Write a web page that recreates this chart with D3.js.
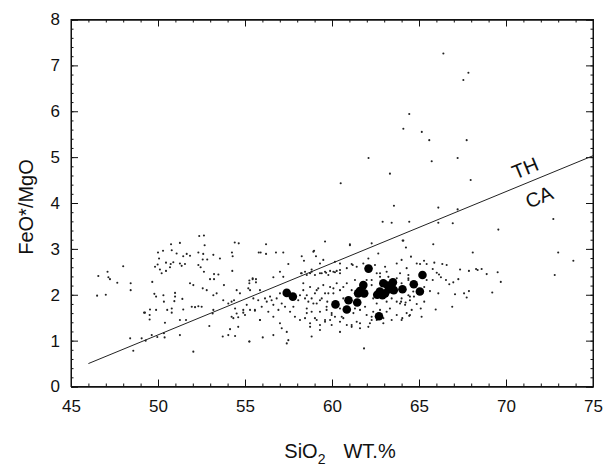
<!DOCTYPE html>
<html>
<head>
<meta charset="utf-8">
<script src="https://cdn.jsdelivr.net/npm/d3@7"></script>
<style>
  body { margin: 0; background: #fff; }
  svg text { font-family: "Liberation Sans", Arial, sans-serif; fill: #111; }
  .axis path, .axis line { stroke: #111; }
</style>
</head>
<body>
<svg id="chart" width="613" height="468"></svg>
<script>
// values (SiO2 wt.%, FeO*/MgO)
var xMajorTicks = [45, 50, 55, 60, 65, 70, 75];
var yMajorTicks = [0, 1, 2, 3, 4, 5, 6, 7, 8];

// Miyashiro TH / CA divide
var dividerLine = [[46, 0.5], [75, 5.03]];

var bigPoints = [
 [57.4,2.04],[57.75,1.96],[60.2,1.79],[60.85,1.68],[60.95,1.88],[61.45,1.83],[61.5,2.03],
 [61.8,2.21],[61.85,2.03],[62.1,2.57],[62.7,1.53],[62.75,2.07],[62.95,2.25],[62.9,1.99],
 [63.05,2.03],[63.3,2.12],[63.5,2.27],[63.55,2.1],[63.2,2.2],[64.05,2.12],[64.7,2.23],
 [65.05,2.07],[65.2,2.43],[62.6,2.0],[61.6,2.08]
];

var smallPoints = [
 // basaltic end
 [46.57,2.41],[47.1,2.5],[47.15,2.38],[46.5,1.98],[47.0,2.0],[48.0,2.62],[47.24,2.34],
 [47.66,2.26],[48.43,2.25],[48.43,2.10],[49.2,1.61],[49.52,1.56],[49.52,1.46],[48.4,1.05],
 [48.58,0.78],[49.06,1.05],[49.29,1.0],[49.64,1.12],[49.96,1.08],[50.34,1.16],[50.38,1.07],
 [51.26,1.12],[52.03,0.76],
 // 50-56 cloud
 [52.37,3.28],[52.64,3.29],[51.26,3.13],[50.75,3.10],[52.68,3.08],[54.41,3.14],[54.64,3.12],
 [50.0,2.92],[50.29,2.96],[50.79,2.97],[50.06,2.79],[51.07,2.90],[51.65,2.89],[51.45,2.84],
 [51.84,2.85],[52.32,2.92],[52.6,2.89],[52.57,2.77],[52.83,2.77],[53.18,2.87],[53.56,2.79],
 [54.25,2.92],[54.29,2.84],[55.79,2.92],[49.98,2.66],[49.83,2.61],[50.46,2.70],[50.73,2.67],
 [50.88,2.71],[51.26,2.68],[51.36,2.63],[51.55,2.67],[50.11,2.55],[50.46,2.52],[50.69,2.60],
 [50.21,2.47],[52.32,2.65],[52.45,2.60],[52.64,2.50],[53.22,2.45],[53.47,2.44],[52.99,2.34],
 [53.22,2.34],[54.27,2.52],[51.84,2.25],[52.03,2.21],[52.57,2.14],[52.8,2.10],[53.18,1.99],
 [53.37,2.03],[53.79,2.21],[54.52,2.10],[54.71,2.03],[55.19,2.14],[55.44,2.34],[55.63,2.27],
 [55.25,2.25],[49.67,2.28],[49.79,2.02],[49.89,1.96],[50.31,1.99],[50.34,1.85],[50.98,2.04],
 [50.98,1.96],[50.94,1.86],[51.4,1.91],[50.53,1.67],[50.79,1.70],[50.79,1.61],[51.45,1.68],
 [51.94,1.74],[52.13,1.73],[52.32,1.75],[52.51,1.74],[49.89,1.67],[49.54,1.68],[49.25,1.61],
 [50.4,1.39],[51.26,1.45],[51.61,1.45],[52.95,1.32],[53.18,1.67],[53.14,1.59],[53.75,1.88],
 [54.04,1.81],[54.23,1.85],[54.37,1.88],[54.43,1.70],[54.52,1.59],[54.23,1.52],[54.33,1.49],
 [54.61,1.51],[54.61,1.30],[54.14,1.25],[54.43,1.10],[53.72,1.09],[54.04,1.12],[54.9,1.61],
 [55.29,1.67],[55.57,1.65],[55.86,1.45],[55.25,0.98],[55.86,2.10],
 // 55-65 cloud, upper part
 [56.21,3.10],[59.6,3.16],[61.03,3.10],[62.28,3.12],[64.1,3.18],[55.9,2.92],[56.21,2.89],
 [56.78,2.92],[57.2,2.92],[58.26,2.84],[58.97,2.96],[58.39,2.74],[57.49,2.67],[57.01,2.50],
 [57.2,2.39],[56.63,2.38],[55.44,2.36],[55.25,2.31],[55.63,2.34],[58.22,2.47],[58.45,2.50],
 [58.74,2.47],[58.83,2.55],[59.02,2.43],[59.41,2.47],[59.66,2.48],[59.79,2.43],[60.08,2.50],
 [60.27,2.52],[60.46,2.47],[60.85,2.58],[61.13,2.67],[61.42,2.61],[60.46,2.68],[60.17,2.72],
 [59.31,2.68],[59.5,2.76],[59.08,2.84],
 // middle band
 [54.9,1.67],[55.1,1.78],[55.29,2.10],[55.48,1.92],[55.76,1.88],[55.96,1.74],[56.15,1.92],
 [56.25,1.85],[56.44,1.96],[56.53,1.88],[56.63,1.78],[56.82,1.92],[57.01,2.03],[57.11,1.81],
 [56.92,1.67],[57.3,1.74],[57.59,1.63],[57.78,1.74],[58.06,1.88],[58.16,1.99],[58.35,2.10],
 [58.55,1.99],[58.64,1.85],[58.83,1.92],[59.02,2.03],[59.21,2.14],[59.41,1.92],[59.6,2.03],
 [59.73,1.85],[59.89,2.17],[60.08,2.03],[60.27,2.25],[60.46,2.10],[60.65,1.92],[60.85,2.25],
 [61.13,2.10],[61.32,2.32],[61.99,2.32],[62.28,2.21],[62.37,1.92],[62.57,1.81],[63.14,1.85],
 [63.43,1.92],[63.72,1.85],[64.0,1.92],[64.2,1.78],[64.48,1.88],[64.67,2.07],[64.39,2.32],
 [63.72,2.36],[63.24,2.39],[62.76,2.39],[62.57,2.47],[63.14,2.50],[63.91,2.47],[64.29,2.58],
 [64.87,2.68],[61.8,2.68],[62.09,2.79],
 [58.26,2.47],[58.55,2.43],[58.83,2.50],[59.31,2.47],[59.6,2.50],[59.89,2.52],[60.17,2.49],
 [60.46,2.54],[61.19,2.65],[58.35,2.25],[58.74,2.17],[59.12,2.10],[59.5,2.21],[59.79,2.03],
 [60.08,2.14],[60.65,2.17],[58.45,1.92],[58.93,1.81],[59.31,1.88],[59.69,1.74],[62.28,2.32],
 [62.76,2.47],[62.47,2.65],[63.05,2.61],[63.72,2.68],[62.66,2.90],[61.03,3.08],[58.93,2.94],
 // lower band
 [55.0,1.56],[55.57,1.67],[55.86,1.45],[56.34,1.63],[56.63,1.52],[57.01,1.38],[57.11,1.27],
 [57.4,1.19],[57.49,1.01],[57.4,0.94],[56.63,1.12],[56.02,1.07],[55.25,0.98],[57.87,1.52],
 [58.16,1.45],[58.45,1.49],[58.74,1.38],[58.83,1.09],[59.12,1.45],[59.31,1.34],[59.6,1.41],
 [59.89,1.45],[59.98,1.34],[60.17,1.52],[60.46,1.41],[60.65,1.49],[60.85,1.34],[61.13,1.34],
 [61.42,1.41],[61.61,1.27],[61.84,0.83],[62.09,1.30],[62.28,1.52],[62.37,1.63],[62.76,1.67],
 [63.14,1.63],[63.43,1.45],[63.72,1.56],[64.0,1.45],[64.29,1.60],[64.48,1.56],[58.83,1.63],
 [58.55,1.70],[59.31,1.63],[59.69,1.67],[59.98,1.60],[60.46,1.70],[59.12,1.81],[60.08,1.78],
 [61.32,1.70],[61.61,1.67],[61.9,1.74],[62.18,1.38],[62.57,1.45],[62.95,1.38],
 [58.55,1.60],[59.02,1.49],[59.6,1.45],[59.98,1.56],[60.56,1.52],[61.23,1.60],[61.61,1.38],
 [61.99,1.56],[62.28,1.45],[62.95,1.49],[63.33,1.70],[63.91,1.81],[64.48,1.96],[60.46,1.19],
 [61.13,1.30],[59.31,1.23],[58.74,1.30],
 // 64-73
 [64.06,3.18],[65.82,3.10],[68.09,2.92],[73.0,2.92],[64.25,3.03],[64.54,2.83],[64.0,2.76],
 [65.29,2.74],[65.06,2.67],[65.44,2.67],[65.88,2.70],[66.34,2.67],[66.59,2.65],[65.79,2.56],
 [66.02,2.48],[66.15,2.44],[66.26,2.38],[67.36,2.55],[67.87,2.52],[68.28,2.56],[68.6,2.56],
 [68.89,2.45],[69.52,2.49],[69.7,2.28],[68.37,2.54],[72.8,2.43],[64.39,2.43],[64.39,2.36],
 [64.58,2.26],[65.44,2.32],[65.79,2.32],[66.55,2.32],[66.97,2.27],[66.74,2.23],[67.26,2.34],
 [65.3,2.17],[65.63,2.08],[66.11,2.03],[67.87,2.08],[67.59,2.03],[67.07,2.01],[67.74,1.94],
 [69.21,2.05],[64.0,2.25],[64.39,1.99],[64.71,1.96],[63.97,1.85],[64.23,1.83],[64.87,1.80],
 [65.3,1.85],[65.1,1.70],[64.58,1.67],[65.96,1.68],[66.91,1.74],[64.44,1.54],[65.15,1.52],
 [64.04,1.49],[73.87,2.74],
 // scattered high ratios
 [66.4,7.26],[67.84,6.84],[67.55,6.68],[64.44,5.94],[64.1,5.62],[65.16,5.55],[65.59,5.37],
 [67.74,5.37],[65.73,4.91],[67.22,4.98],[63.33,4.64],[67.97,4.50],[63.56,3.94],[66.11,3.90],
 [67.22,3.86],[62.91,3.59],[63.43,3.57],[64.44,3.59],[66.11,3.57],[66.94,3.56],[72.72,3.65],
 [69.56,3.42],[62.1,4.98],[60.5,4.43]
];

var svg = d3.select("#chart");
var plotL = 71, plotR = 593, plotT = 19.5, plotB = 386.5;

var x = d3.scaleLinear().domain([45, 75]).range([plotL, plotR]);
var y = d3.scaleLinear().domain([0, 8]).range([plotB, plotT]);

var minorX = d3.range(45, 75.01, 1);
var minorY = d3.range(0, 8.01, 0.2);

// minor ticks all round
svg.append("g").attr("class", "axis").attr("transform", `translate(0,${plotB})`)
  .call(d3.axisBottom(x).tickValues(minorX).tickSize(-3).tickFormat(""));
svg.append("g").attr("class", "axis").attr("transform", `translate(0,${plotT})`)
  .call(d3.axisTop(x).tickValues(minorX).tickSize(-3).tickFormat(""));
svg.append("g").attr("class", "axis").attr("transform", `translate(${plotL},0)`)
  .call(d3.axisLeft(y).tickValues(minorY).tickSize(-2.5).tickFormat(""))
  .selectAll(".tick line").attr("stroke", "#999");
svg.append("g").attr("class", "axis").attr("transform", `translate(${plotR},0)`)
  .call(d3.axisRight(y).tickValues(minorY).tickSize(-2.5).tickFormat(""))
  .selectAll(".tick line").attr("stroke", "#999");

// major ticks + labels
svg.append("g").attr("class", "axis").attr("transform", `translate(0,${plotB})`)
  .call(d3.axisBottom(x).tickValues(xMajorTicks).tickSize(-7).tickPadding(13).tickFormat(d3.format("d")));
svg.append("g").attr("class", "axis").attr("transform", `translate(0,${plotT})`)
  .call(d3.axisTop(x).tickValues(xMajorTicks).tickSize(-7).tickFormat(""));
svg.append("g").attr("class", "axis").attr("transform", `translate(${plotL},0)`)
  .call(d3.axisLeft(y).tickValues(yMajorTicks).tickSize(-7).tickPadding(11).tickFormat(d3.format("d")));
svg.append("g").attr("class", "axis").attr("transform", `translate(${plotR},0)`)
  .call(d3.axisRight(y).tickValues(yMajorTicks).tickSize(-7).tickFormat(""));

svg.selectAll(".axis text")
  .style("font-size", "17px")
  .style("font-family", "'Liberation Sans', Arial, sans-serif");

svg.append("rect")
  .attr("x", plotL).attr("y", plotT)
  .attr("width", plotR - plotL).attr("height", plotB - plotT)
  .attr("fill", "none").attr("stroke", "#111");

// divide line
svg.append("path")
  .datum(dividerLine)
  .attr("fill", "none")
  .attr("stroke", "#222")
  .attr("stroke-width", 1)
  .attr("d", d3.line().x(d => x(d[0])).y(d => y(d[1])));

var angle = Math.atan2(y(dividerLine[1][1]) - y(dividerLine[0][1]), x(dividerLine[1][0]) - x(dividerLine[0][0])) * 180 / Math.PI;

svg.append("text")
  .attr("transform", `translate(${x(71.1)},${y(4.76)}) rotate(${angle})`)
  .attr("text-anchor", "middle").attr("dy", "0.35em")
  .style("font-size", "20px")
  .text("TH");
svg.append("text")
  .attr("transform", `translate(${x(71.9)},${y(4.13)}) rotate(${angle})`)
  .attr("text-anchor", "middle").attr("dy", "0.35em")
  .style("font-size", "20px")
  .text("CA");

// points
svg.append("g").selectAll("circle")
  .data(smallPoints)
  .enter().append("circle")
  .attr("cx", d => x(d[0]))
  .attr("cy", d => y(d[1]))
  .attr("r", 1.05)
  .attr("fill", "#222");

svg.append("g").selectAll("circle")
  .data(bigPoints)
  .enter().append("circle")
  .attr("cx", d => x(d[0]))
  .attr("cy", d => y(d[1]))
  .attr("r", 4.3)
  .attr("fill", "#000");

// axis titles
svg.append("text")
  .attr("transform", `translate(33,${(plotT + plotB) / 2 + 4}) rotate(-90)`)
  .attr("text-anchor", "middle")
  .style("font-size", "20px")
  .text("FeO*/MgO");

var xt = svg.append("text")
  .attr("x", 340).attr("y", 458)
  .attr("text-anchor", "middle")
  .style("font-size", "20px");
xt.append("tspan").text("SiO");
xt.append("tspan").attr("dy", 6).style("font-size", "14px").text("2");
xt.append("tspan").attr("dy", -6).attr("dx", 18).text("WT.%");
</script>
</body>
</html>
